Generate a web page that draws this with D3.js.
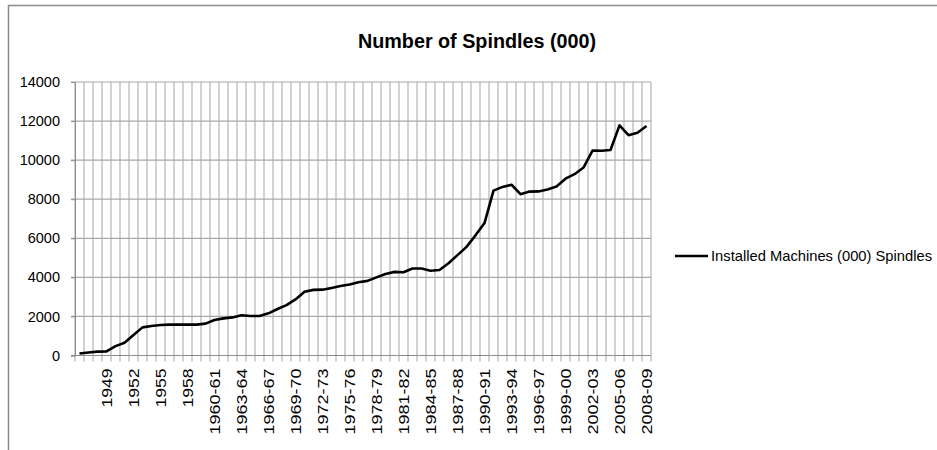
<!DOCTYPE html>
<html>
<head>
<meta charset="utf-8">
<script src="https://cdn.jsdelivr.net/npm/d3@7"></script>
<style>
  body { margin: 0; background: #fff; }
  text { font-family: "Liberation Sans", Arial, sans-serif; fill: #000; }
</style>
</head>
<body>
<script>
// years on the category axis (one per point)
var years = ["1946", "1947", "1948", "1949", "1950", "1951", "1952", "1953", "1954", "1955",
  "1956", "1957", "1958", "1959", "1959-60", "1960-61", "1961-62", "1962-63", "1963-64", "1964-65",
  "1965-66", "1966-67", "1967-68", "1968-69", "1969-70", "1970-71", "1971-72", "1972-73", "1973-74", "1974-75",
  "1975-76", "1976-77", "1977-78", "1978-79", "1979-80", "1980-81", "1981-82", "1982-83", "1983-84", "1984-85",
  "1985-86", "1986-87", "1987-88", "1988-89", "1989-90", "1990-91", "1991-92", "1992-93", "1993-94", "1994-95",
  "1995-96", "1996-97", "1997-98", "1998-99", "1999-00", "2000-01", "2001-02", "2002-03", "2003-04", "2004-05",
  "2005-06", "2006-07", "2007-08", "2008-09"];

// installed spindles (000)
var spindles = [100, 150, 200, 210, 480, 650, 1050, 1440, 1510, 1560,
  1580, 1580, 1580, 1580, 1630, 1820, 1900, 1950, 2060, 2020,
  2020, 2160, 2380, 2580, 2870, 3260, 3360, 3370, 3460, 3560,
  3630, 3750, 3820, 4000, 4170, 4280, 4260, 4450, 4450, 4340,
  4380, 4720, 5140, 5560, 6150, 6780, 8440, 8630, 8740, 8260,
  8390, 8400, 8500, 8650, 9050, 9280, 9620, 10490, 10480, 10520,
  11780, 11280, 11400, 11750];

var shownLabels = ["1949", "1952", "1955", "1958", "1960-61", "1963-64", "1966-67", "1969-70",
  "1972-73", "1975-76", "1978-79", "1981-82", "1984-85", "1987-88", "1990-91", "1993-94",
  "1996-97", "1999-00", "2002-03", "2005-06", "2008-09"];

var yTicks = [0, 2000, 4000, 6000, 8000, 10000, 12000, 14000];

var width = 937, height = 450;
var plotLeft = 75, plotRight = 651, plotTop = 82, plotBottom = 355.5;

var svg = d3.select('body').append('svg')
    .attr('width', width)
    .attr('height', height);

// chart border (cut off by the picture on right and bottom)
svg.append('rect')
    .attr('x', 8.5).attr('y', 5.5)
    .attr('width', 1000).attr('height', 1000)
    .attr('fill', 'none')
    .attr('stroke', '#8c8c8c')
    .attr('stroke-width', 1.5);

svg.append('text')
    .attr('x', 477).attr('y', 48)
    .attr('text-anchor', 'middle')
    .style('font-size', '20px')
    .style('font-weight', 'bold')
    .attr('textLength', 238)
    .attr('lengthAdjust', 'spacingAndGlyphs')
    .text('Number of Spindles (000)');

var x = d3.scaleBand().domain(years).range([plotLeft, plotRight]).padding(0);
var y = d3.scaleLinear().domain([0, 14000]).range([plotBottom, plotTop]);

// vertical gridlines at category boundaries, extended as tick marks
var bounds = years.map(function (d) { return x(d); }).concat([plotRight]);
svg.append('g').selectAll('line')
    .data(bounds)
    .enter()
    .append('line')
    .attr('x1', function (d) { return d; })
    .attr('x2', function (d) { return d; })
    .attr('y1', plotTop)
    .attr('y2', plotBottom + 6)
    .attr('stroke', '#b4b4b4')
    .attr('stroke-width', 1.2);

// horizontal gridlines
svg.append('g').selectAll('line')
    .data(yTicks)
    .enter()
    .append('line')
    .attr('x1', plotLeft - 4)
    .attr('x2', plotRight)
    .attr('y1', function (d) { return y(d); })
    .attr('y2', function (d) { return y(d); })
    .attr('stroke', function (d) { return d === 0 ? '#8c8c8c' : '#a8a8a8'; })
    .attr('stroke-width', 1.2);

// y axis
var yAxis = svg.append('g')
    .attr('transform', 'translate(' + plotLeft + ',0)')
    .call(d3.axisLeft(y).tickValues(yTicks).tickFormat(d3.format('d')).tickSize(4).tickPadding(11));
yAxis.select('.domain').attr('stroke', '#8c8c8c');
yAxis.selectAll('.tick line').attr('stroke', '#8c8c8c');
yAxis.selectAll('text').style('font-size', '14.5px').attr('fill', '#000');

// x axis labels
var xAxis = svg.append('g')
    .attr('transform', 'translate(0,' + plotBottom + ')')
    .call(d3.axisBottom(x).tickValues(shownLabels).tickSize(0));
xAxis.select('.domain').remove();
xAxis.selectAll('text')
    .style('font-size', '15px')
    .attr('fill', '#000')
    .attr('text-anchor', 'end')
    .attr('transform', 'rotate(-90)')
    .attr('x', -13)
    .attr('y', 0)
    .attr('dy', '0.36em')
    .attr('textLength', function (d) { return d.length > 4 ? 66 : 39; })
    .attr('lengthAdjust', 'spacingAndGlyphs');

// data line
var line = d3.line()
    .x(function (d, i) { return x(years[i]) + x.bandwidth() / 2; })
    .y(function (d) { return y(d); });

svg.append('path')
    .datum(spindles)
    .attr('d', line)
    .attr('fill', 'none')
    .attr('stroke', '#000')
    .attr('stroke-width', 2.6)
    .attr('stroke-linejoin', 'round');

// legend
var legend = svg.append('g');
legend.append('line')
    .attr('x1', 675).attr('x2', 708)
    .attr('y1', 256).attr('y2', 256)
    .attr('stroke', '#000')
    .attr('stroke-width', 2.6);
legend.append('text')
    .attr('x', 711).attr('y', 261)
    .style('font-size', '15px')
    .attr('textLength', 221)
    .attr('lengthAdjust', 'spacingAndGlyphs')
    .text('Installed Machines (000) Spindles');
</script>
</body>
</html>
